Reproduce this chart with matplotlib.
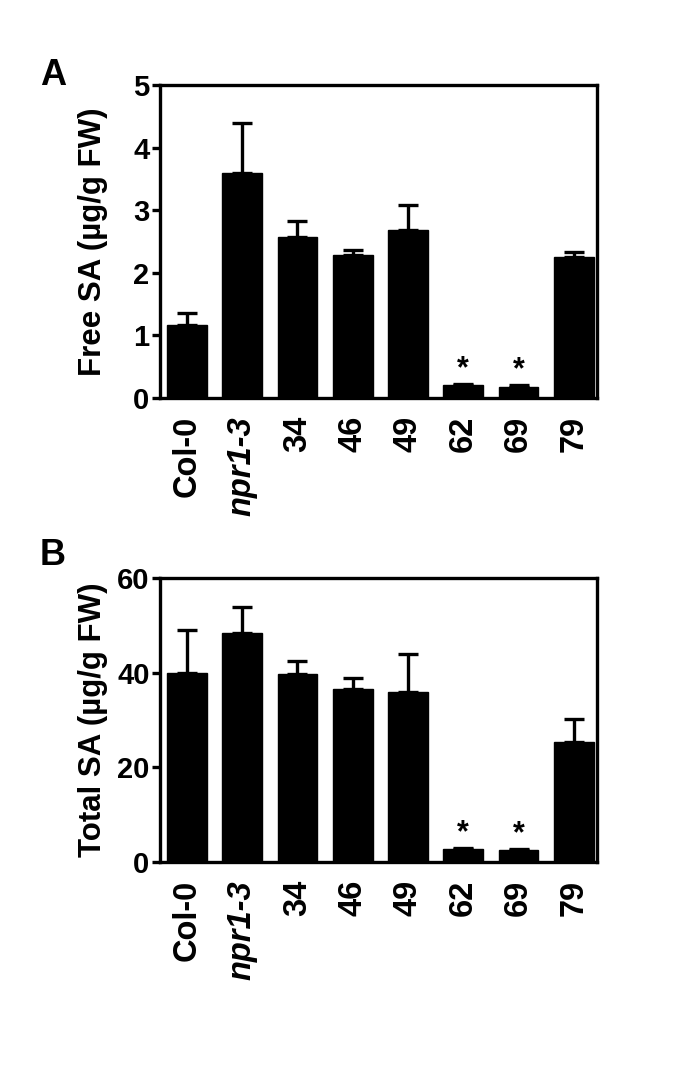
import matplotlib
matplotlib.use('Agg')
import matplotlib.pyplot as plt
import numpy as np

plt.rcParams['font.family'] = ['Liberation Sans', 'DejaVu Sans']
plt.rcParams['font.weight'] = 'bold'

# Lines on the x axis
lines = ['Col-0', 'npr1-3', '34', '46', '49', '62', '69', '79']

# Panel A: free SA (ug/g FW), mean and upper error
free_sa = [1.16, 3.60, 2.57, 2.29, 2.69, 0.20, 0.18, 2.26]
free_err = [0.20, 0.80, 0.25, 0.07, 0.40, 0.02, 0.02, 0.07]

# Panel B: total SA (ug/g FW), mean and upper error
total_sa = [40.0, 48.5, 39.8, 36.5, 36.0, 2.7, 2.5, 25.3]
total_err = [9.0, 5.4, 2.6, 2.4, 8.0, 0.3, 0.3, 5.0]

# lines marked as significantly different
marked = ['62', '69']

fig = plt.figure(figsize=(6.85, 10.67), dpi=100)
ax_a = fig.add_axes([0.2336, 0.627, 0.638, 0.2933])
ax_b = fig.add_axes([0.2336, 0.1921, 0.638, 0.266])

x_pos = np.arange(len(lines))


def draw_panel(ax, values, errors, yticks, ylabel):
    ax.bar(x_pos, values, width=0.72, color='black', edgecolor='black', zorder=2)
    ax.errorbar(x_pos, values, yerr=[np.zeros(len(values)), errors], fmt='none',
                ecolor='black', elinewidth=2.4, capsize=7, capthick=2.4, zorder=1)
    ax.set_xlim(-0.486, 7.42)
    ax.set_ylim(0, yticks[-1])
    ax.set_yticks(yticks)
    ax.set_yticklabels([str(t) for t in yticks], fontsize=21, fontweight='bold')
    ax.set_xticks(x_pos)
    ax.set_xticklabels(lines, rotation=90, fontsize=23.5, fontweight='bold')
    ax.get_xticklabels()[1].set_style('italic')
    ax.tick_params(axis='x', length=0, pad=13)
    ax.tick_params(axis='y', length=6, width=2.4, pad=1.5, direction='out')
    for side in ax.spines.values():
        side.set_linewidth(2.4)
    ax.set_ylabel(ylabel, fontsize=22.5, fontweight='bold')
    ax.yaxis.set_label_coords(-0.118, 0.5)
    # asterisks above marked lines
    for name in marked:
        i = lines.index(name)
        ax.annotate('*', (i, values[i] + errors[i]), xytext=(0, 0),
                    textcoords='offset points', ha='center', va='bottom',
                    fontsize=22, fontweight='bold')


draw_panel(ax_a, free_sa, free_err, [0, 1, 2, 3, 4, 5], 'Free SA (µg/g FW)')
draw_panel(ax_b, total_sa, total_err, [0, 20, 40, 60], 'Total SA (µg/g FW)')

fig.text(0.058, 0.929, 'A', fontsize=26, fontweight='bold', ha='left', va='center')
fig.text(0.058, 0.479, 'B', fontsize=26, fontweight='bold', ha='left', va='center')

plt.savefig('out.png', dpi=100)
plt.close()
